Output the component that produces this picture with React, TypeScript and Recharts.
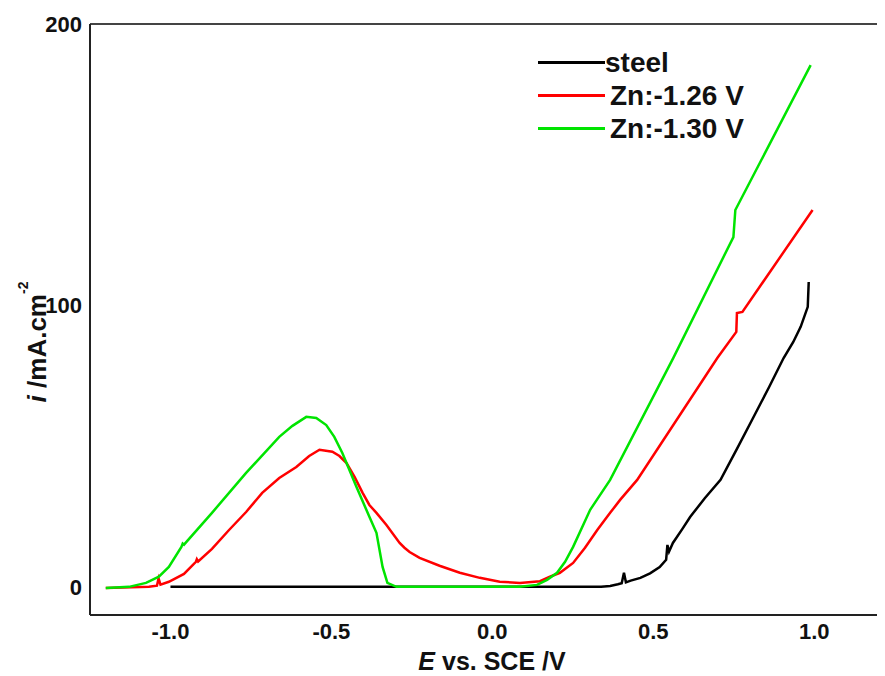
import { LineChart, Line, XAxis, YAxis, ReferenceLine, Legend } from "recharts"

// potential E (V vs SCE) and current density i (mA/cm2)
const steelE = [-1.0, 0.0, 0.338, 0.366, 0.39, 0.402, 0.409, 0.415, 0.43, 0.46, 0.49, 0.52, 0.540, 0.544, 0.549, 0.561, 0.59, 0.615, 0.66, 0.709, 0.76, 0.81, 0.86, 0.905, 0.935, 0.958, 0.98, 0.983]
const steelI = [0, 0, 0, 0.3, 0.9, 1.3, 5.0, 1.6, 2.2, 3.2, 4.8, 7.0, 9.6, 14.9, 12.5, 15.6, 20.5, 24.9, 31.5, 38.0, 49.0, 60.0, 71.0, 81.3, 87.0, 92.4, 99.5, 108.3]

const zn126E = [-1.201, -1.067, -1.042, -1.037, -1.031, -1.005, -0.958, -0.921, -0.918, -0.914, -0.871, -0.818, -0.765, -0.715, -0.662, -0.609, -0.569, -0.537, -0.497, -0.475, -0.453, -0.428, -0.403, -0.382, -0.360, -0.329, -0.288, -0.273, -0.257, -0.226, -0.164, -0.101, -0.039, 0.023, 0.086, 0.148, 0.179, 0.210, 0.251, 0.288, 0.326, 0.366, 0.397, 0.450, 0.699, 0.758, 0.760, 0.777, 0.995]
const zn126I = [-0.4, 0, 0.4, 3.0, 0.8, 1.8, 4.6, 8.9, 9.8, 9.0, 13.5, 20.2, 26.6, 33.4, 38.7, 42.6, 46.5, 48.7, 48.0, 46.5, 44.0, 39.1, 33.4, 29.1, 26.3, 22.0, 15.6, 13.9, 12.4, 10.3, 7.5, 5.0, 3.2, 1.8, 1.4, 2.0, 3.6, 5.0, 8.5, 13.9, 20.2, 26.3, 30.9, 38.0, 81.3, 90.6, 97.3, 97.7, 133.9]

const zn130E = [-1.201, -1.129, -1.076, -1.036, -1.005, -0.966, -0.962, -0.958, -0.871, -0.765, -0.662, -0.621, -0.578, -0.547, -0.516, -0.491, -0.466, -0.422, -0.382, -0.360, -0.341, -0.326, -0.298, 0.086, 0.139, 0.170, 0.201, 0.226, 0.251, 0.304, 0.366, 0.562, 0.749, 0.755, 0.989]
const zn130I = [-0.4, 0, 1.4, 3.6, 7.1, 14.2, 15.4, 15.0, 26.3, 40.5, 53.3, 57.2, 60.4, 60.0, 57.5, 53.3, 47.6, 35.5, 24.9, 19.2, 7.1, 1.4, 0, 0, 0.7, 2.5, 5.0, 8.9, 14.2, 27.4, 38.0, 81.3, 124.3, 133.9, 185.4]

const xTicks = [-1.0, -0.5, 0.0, 0.5, 1.0]
const yTicks = [0, 100, 200]

const seriesNames = ["steel", "Zn:-1.26 V", "Zn:-1.30 V"]
const seriesColors = ["#000000", "#ff0000", "#00e400"]

const toPoints = (es: number[], is: number[]) => es.map((e, k) => ({ e, i: is[k] }))

const steelData = toPoints(steelE, steelI)
const zn126Data = toPoints(zn126E, zn126I)
const zn130Data = toPoints(zn130E, zn130I)

const FONT = "'Liberation Sans', Arial, sans-serif"

function YTitle() {
    return (
        <text
            x={29}
            y={334}
            transform="rotate(-90 29 334)"
            textAnchor="middle"
            dominantBaseline="central"
            fontFamily={FONT}
            fontWeight="bold"
            fontSize={26}
            fill="#111"
        >
            <tspan fontStyle="italic">i</tspan>
            <tspan> /mA.cm</tspan>
            <tspan fontSize={14} dy={-14}>-2</tspan>
        </text>
    )
}

function XTitle() {
    return (
        <text
            x={484}
            y={653}
            textAnchor="middle"
            dominantBaseline="central"
            fontFamily={FONT}
            fontWeight="bold"
            fontSize={25}
            fill="#111"
        >
            <tspan fontStyle="italic">E</tspan>
            <tspan> vs. SCE /V</tspan>
        </text>
    )
}

function LegendBox() {
    return (
        <div style={{ fontFamily: FONT, fontWeight: "bold", fontSize: 28, color: "#111" }}>
            {seriesNames.map((name, k) => (
                <div key={name} style={{ display: "flex", alignItems: "center", height: 33 }}>
                    <span style={{ display: "inline-block", width: 67, height: 3, background: seriesColors[k] }} />
                    <span style={{ marginLeft: k === 0 ? 0 : 5, lineHeight: "33px" }}>{name}</span>
                </div>
            ))}
        </div>
    )
}

export default function App() {
    return (
        <div style={{ width: 877, height: 668 }}>
            <LineChart width={877} height={668} margin={{ top: 16, right: 0, left: 0, bottom: 0 }}>
                <XAxis
                    type="number"
                    dataKey="e"
                    domain={[-1.25, 1.22]}
                    ticks={xTicks}
                    tickFormatter={(v: number) => v.toFixed(1)}
                    tickLine={false}
                    axisLine={{ stroke: "#222", strokeWidth: 2 }}
                    tick={{ fontFamily: FONT, fontWeight: "bold", fontSize: 22, fill: "#111" }}
                    height={61}
                    allowDataOverflow
                />
                <YAxis
                    type="number"
                    dataKey="i"
                    domain={[-10, 200]}
                    ticks={yTicks}
                    tickLine={false}
                    axisLine={{ stroke: "#222", strokeWidth: 2 }}
                    tick={{ fontFamily: FONT, fontWeight: "bold", fontSize: 22, fill: "#111" }}
                    width={82}
                    allowDataOverflow
                />
                <ReferenceLine y={200} stroke="#444" strokeWidth={2} />
                <Legend
                    layout="vertical"
                    align="center"
                    verticalAlign="middle"
                    content={() => <LegendBox />}
                    wrapperStyle={{ top: 38, left: 530, width: "auto" }}
                />
                <Line data={steelData} dataKey="i" type="linear" stroke={seriesColors[0]} strokeWidth={2.5} dot={false} isAnimationActive={false} />
                <Line data={zn126Data} dataKey="i" type="linear" stroke={seriesColors[1]} strokeWidth={2.5} dot={false} isAnimationActive={false} />
                <Line data={zn130Data} dataKey="i" type="linear" stroke={seriesColors[2]} strokeWidth={2.5} dot={false} isAnimationActive={false} />
                <YTitle />
                <XTitle />
            </LineChart>
        </div>
    )
}
